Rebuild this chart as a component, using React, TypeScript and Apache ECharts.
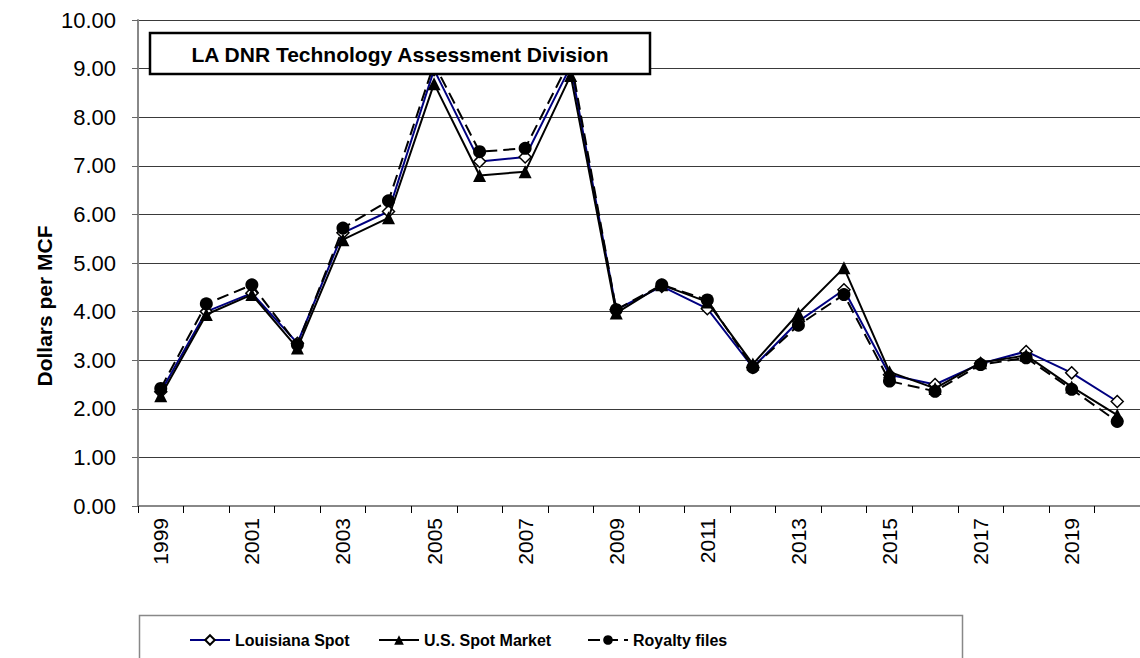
import React, { useEffect, useRef } from "react";
import * as echarts from "echarts";

const years = ["1999","2000","2001","2002","2003","2004","2005","2006","2007","2008","2009","2010","2011","2012","2013","2014","2015","2016","2017","2018","2019","2020"];
const louisianaSpot = [2.35, 4.0, 4.38, 3.35, 5.62, 6.06, 8.98, 7.09, 7.18, 9.05, 4.04, 4.52, 4.06, 2.85, 3.8, 4.45, 2.7, 2.5, 2.93, 3.18, 2.74, 2.15];
const usSpotMarket = [2.27, 3.94, 4.35, 3.25, 5.48, 5.93, 8.69, 6.8, 6.88, 8.86, 3.97, 4.55, 4.2, 2.92, 3.96, 4.9, 2.76, 2.42, 2.95, 3.1, 2.45, 1.87];
const royaltyFiles = [2.42, 4.16, 4.55, 3.32, 5.72, 6.28, 9.1, 7.29, 7.36, 9.2, 4.04, 4.55, 4.24, 2.85, 3.72, 4.35, 2.57, 2.36, 2.91, 3.05, 2.4, 1.74];
const seriesNames = ["Louisiana Spot", "U.S. Spot Market", "Royalty files"];
const yTicks = { min: 0, max: 10, interval: 1 };
const annotation = "LA DNR Technology Assessment Division";
const yTitle = "Dollars per MCF";

const FONT = "'Liberation Sans', Arial, sans-serif";

export default function App() {
  const ref = useRef<HTMLDivElement>(null);
  useEffect(() => {
    if (!ref.current) return;
    const chart = echarts.init(ref.current, null, { renderer: "svg" });
    const legendBase = {
      top: 627,
      itemWidth: 40,
      itemHeight: 12,
      textStyle: { fontFamily: FONT, fontWeight: "bold", fontSize: 16, color: "#000" },
    };
    chart.setOption({
      animation: false,
      backgroundColor: "#ffffff",
      textStyle: { fontFamily: FONT },
      grid: { left: 138, top: 20, width: 1016, height: 486, containLabel: false },
      legend: [
        { ...legendBase, left: 184, data: [seriesNames[0]] },
        { ...legendBase, left: 373, data: [seriesNames[1]] },
        { ...legendBase, left: 582, data: [seriesNames[2]] },
      ],
      xAxis: {
        type: "category",
        data: years,
        boundaryGap: true,
        axisLine: { lineStyle: { color: "#888888", width: 2 } },
        axisTick: { show: true, interval: 0, length: 7, lineStyle: { color: "#000" } },
        axisLabel: { interval: 1, rotate: 90, fontSize: 21, color: "#000", margin: 12, fontFamily: FONT },
        splitLine: { show: false },
      },
      yAxis: {
        type: "value",
        min: yTicks.min,
        max: yTicks.max,
        interval: yTicks.interval,
        axisLine: { show: true, lineStyle: { color: "#888888", width: 2 } },
        axisTick: { show: true, length: 6, lineStyle: { color: "#666" } },
        axisLabel: { fontSize: 22, color: "#000", margin: 22, fontFamily: FONT, formatter: (v: number) => v.toFixed(2) },
        splitLine: { show: true, lineStyle: { color: "#3a3a3a", width: 1 } },
      },
      series: [
        {
          name: seriesNames[0],
          type: "line",
          data: louisianaSpot,
          symbol: "diamond",
          symbolSize: 12,
          itemStyle: { color: "#ffffff", borderColor: "#000000", borderWidth: 1.5 },
          lineStyle: { color: "#000080", width: 2 },
          z: 2,
        },
        {
          name: seriesNames[1],
          type: "line",
          data: usSpotMarket,
          symbol: "triangle",
          symbolSize: 13,
          itemStyle: { color: "#000000" },
          lineStyle: { color: "#000000", width: 2 },
          z: 3,
        },
        {
          name: seriesNames[2],
          type: "line",
          data: royaltyFiles,
          symbol: "circle",
          symbolSize: 13,
          itemStyle: { color: "#000000" },
          lineStyle: { color: "#000000", width: 2, type: [12, 6] },
          z: 4,
        },
      ],
      graphic: [
        {
          type: "rect",
          left: 137,
          top: 613,
          z: 1,
          shape: { width: 823, height: 60 },
          style: { fill: "none", stroke: "#888888", lineWidth: 1.5 },
        },
        {
          type: "text",
          x: 44,
          y: 306,
          rotation: Math.PI / 2,
          style: {
            text: yTitle,
            fill: "#000",
            font: "bold 21px 'Liberation Sans', Arial, sans-serif",
            align: "center",
            verticalAlign: "middle",
          },
        },
        {
          type: "rect",
          zlevel: 1,
          z: 100,
          shape: { x: 150, y: 33, width: 500, height: 41 },
          style: { fill: "#ffffff", stroke: "#000000", lineWidth: 2.5 },
        },
        {
          type: "text",
          zlevel: 1,
          z: 101,
          x: 400,
          y: 54,
          style: {
            text: annotation,
            fill: "#000",
            font: "bold 21px 'Liberation Sans', Arial, sans-serif",
            align: "center",
            verticalAlign: "middle",
          },
        },
      ],
    });
    return () => chart.dispose();
  }, []);
  return <div ref={ref} style={{ position: "absolute", left: 0, top: 0, width: 1140, height: 658 }} />;
}
